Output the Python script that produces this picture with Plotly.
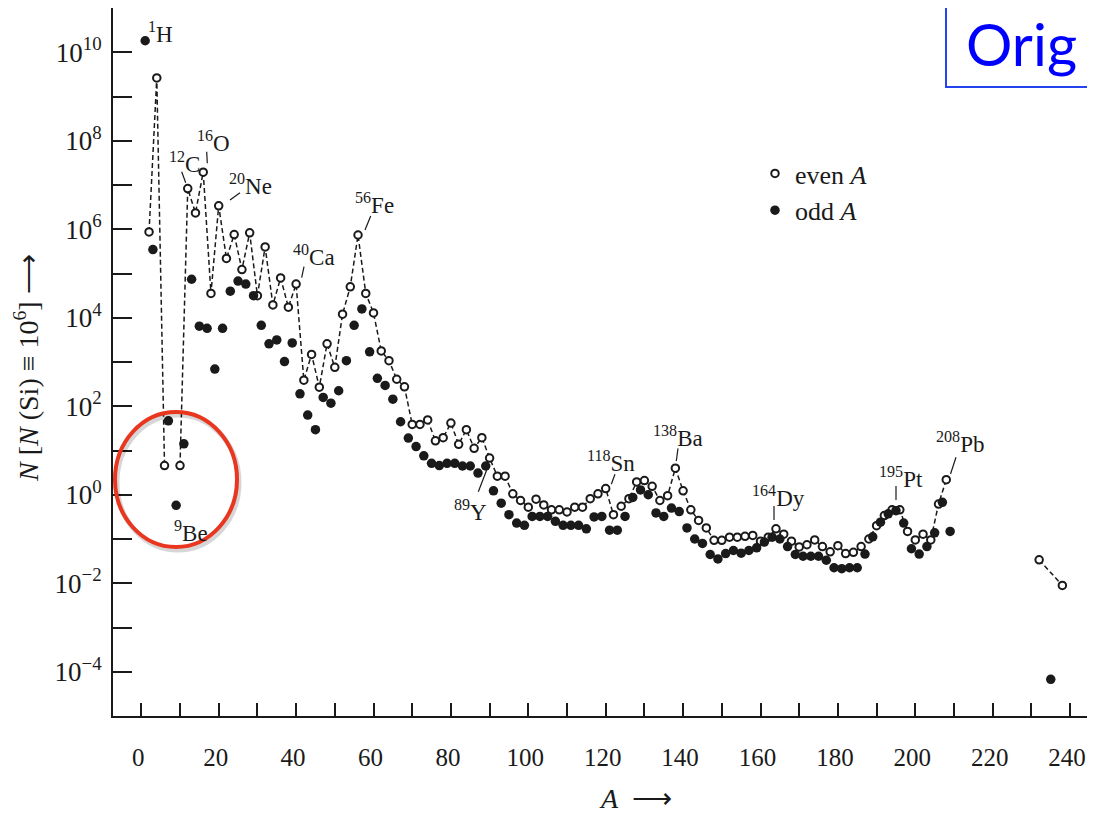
import plotly.graph_objects as go

# ---------------- data ----------------
even_A = [2, 4, 6, 8, 10, 12, 14, 16, 18, 20, 22, 24, 26, 28, 30, 32, 34, 36, 38, 40,
          42, 44, 46, 48, 50, 52, 54, 56, 58, 60, 62, 64, 66, 68, 70, 72, 74, 76, 78, 80,
          82, 84, 86, 88, 90, 92, 94, 96, 98, 100, 102, 104, 106, 108, 110, 112, 114, 116, 118, 120,
          122, 124, 126, 128, 130, 132, 134, 136, 138, 140, 142, 144, 146, 148, 150, 152, 154, 156, 158, 160,
          162, 164, 166, 168, 170, 172, 174, 176, 178, 180, 182, 184, 186, 188, 190, 192, 194, 196, 198, 200,
          202, 204, 206, 208]
even_log10N = [5.94, 9.42, 0.66, None, 0.66, 6.92, 6.37, 7.29, 4.55, 6.53, 5.34, 5.88, 5.09, 5.92, 4.50, 5.60, 4.29, 4.90, 4.24, 4.76,
               2.59, 3.17, 2.43, 3.41, 2.88, 4.08, 4.70, 5.87, 4.55, 4.11, 3.25, 3.03, 2.61, 2.44, 1.59, 1.59, 1.69, 1.22, 1.29, 1.62,
               1.14, 1.47, 1.05, 1.29, 0.83, 0.42, 0.42, 0.02, -0.13, -0.28, -0.10, -0.23, -0.34, -0.34, -0.39, -0.28, -0.28, -0.09, 0.02, 0.14,
               -0.45, -0.26, -0.09, 0.29, 0.32, 0.19, -0.13, -0.02, 0.60, 0.09, -0.34, -0.58, -0.75, -1.03, -1.03, -0.96, -0.96, -0.94, -0.92, -1.05,
               -0.96, -0.77, -0.89, -1.05, -1.18, -1.13, -1.02, -1.17, -1.29, -1.15, -1.33, -1.30, -1.17, -1.00, -0.70, -0.47, -0.34, -0.34, -0.83, -1.02,
               -0.89, -1.02, -0.21, 0.34]

odd_A = [1, 3, 5, 7, 9, 11, 13, 15, 17, 19, 21, 23, 25, 27, 29, 31, 33, 35, 37, 39,
         41, 43, 45, 47, 49, 51, 53, 55, 57, 59, 61, 63, 65, 67, 69, 71, 73, 75, 77, 79,
         81, 83, 85, 87, 89, 91, 93, 95, 97, 99, 101, 103, 105, 107, 109, 111, 113, 115, 117, 119,
         121, 123, 125, 127, 129, 131, 133, 135, 137, 139, 141, 143, 145, 147, 149, 151, 153, 155, 157, 159,
         161, 163, 165, 167, 169, 171, 173, 175, 177, 179, 181, 183, 185, 187, 189, 191, 193, 195, 197, 199,
         201, 203, 205, 207, 209]
odd_log10N = [10.26, 5.54, None, 1.67, -0.24, 1.15, 4.87, 3.81, 3.76, 2.84, 3.76, 4.60, 4.83, 4.76, 4.50, 3.83, 3.41, 3.50, 3.01, 3.43,
              2.28, 1.80, 1.47, 2.20, 2.07, 2.35, 3.03, 3.83, 4.20, 3.23, 2.63, 2.47, 2.16, 1.65, 1.28, 1.09, 0.88, 0.71, 0.66, 0.71,
              0.71, 0.65, 0.65, 0.49, 0.65, 0.09, -0.19, -0.45, -0.64, -0.69, -0.49, -0.49, -0.49, -0.60, -0.69, -0.69, -0.69, -0.77, -0.50, -0.49,
              -0.80, -0.80, -0.49, -0.06, 0.11, 0.00, -0.41, -0.49, -0.30, -0.38, -0.75, -1.00, -1.10, -1.35, -1.45, -1.33, -1.26, -1.32, -1.26, -1.20,
              -1.07, -0.96, -1.00, -1.17, -1.35, -1.39, -1.39, -1.39, -1.48, -1.65, -1.67, -1.65, -1.65, -1.34, -0.95, -0.62, -0.43, -0.36, -0.64, -1.22,
              -1.34, -1.17, -0.86, -0.17, -0.83]

actinide_even_A = [232, 238]
actinide_even_log10N = [-1.47, -2.05]
actinide_odd_A = [235]
actinide_odd_log10N = [-4.17]

x_tick_vals = [0, 20, 40, 60, 80, 100, 120, 140, 160, 180, 200, 220, 240]
x_tick_text = ["0", "20", "40", "60", "80", "100", "120", "140", "160", "180", "200", "220", "240"]
x_minor_vals = [0, 10, 20, 30, 40, 50, 60, 70, 80, 90, 100, 110, 120, 130, 140, 150, 160, 170, 180, 190,
                200, 210, 220, 230, 240]
y_tick_exp = [-4, -2, 0, 2, 4, 6, 8, 10]
y_minor_exp = [-4, -3, -2, -1, 0, 1, 2, 3, 4, 5, 6, 7, 8, 9, 10, 11]

# element labels
labels = ["<sup>1</sup>H", "<sup>12</sup>C", "<sup>16</sup>O", "<sup>20</sup>Ne", "<sup>40</sup>Ca",
          "<sup>56</sup>Fe", "<sup>89</sup>Y", "<sup>118</sup>Sn", "<sup>138</sup>Ba", "<sup>164</sup>Dy",
          "<sup>195</sup>Pt", "<sup>208</sup>Pb", "<sup>9</sup>Be"]

# ---------------- layout geometry ----------------
# the page body has an 8px margin, so the figure starts at page (8, 8);
# the visible page area ends at x = 1087
OFF = 8
VIS_R = 1087
W, H = VIS_R - OFF, 814 - OFF
PX0, PX1 = 113, VIS_R          # plot area, page pixels
PY0, PY1 = 8, 716
L, R, T, B = PX0 - OFF, 0, PY0 - OFF, H - (PY1 - OFF)
PW, PH = PX1 - PX0, PY1 - PY0
X_ZERO, X_SCALE = 141.3, 3.87  # page px of A = 0, px per unit of A


def px(x):
    return (x - PX0) / PW


def py(y):
    return (PY1 - y) / PH


SERIF = "Liberation Serif, Times New Roman, serif"
INK = "#1a1a1a"


def to_N(vals):
    return [None if v is None else 10 ** v for v in vals]


fig = go.Figure()

# dashed line joining the even-A points
fig.add_trace(go.Scatter(
    x=even_A + [None] + actinide_even_A,
    y=to_N(even_log10N) + [None] + to_N(actinide_even_log10N),
    mode="lines", line=dict(color=INK, width=1.5, dash="5px,3px"),
    showlegend=False, hoverinfo="skip", connectgaps=False))

fig.add_trace(go.Scatter(
    x=even_A + actinide_even_A,
    y=to_N(even_log10N) + to_N(actinide_even_log10N),
    mode="markers", name="even <i>A</i>",
    marker=dict(symbol="circle", size=7.5, color="white", line=dict(color=INK, width=2))))

fig.add_trace(go.Scatter(
    x=odd_A + actinide_odd_A,
    y=to_N(odd_log10N) + to_N(actinide_odd_log10N),
    mode="markers", name="odd <i>A</i>",
    marker=dict(symbol="circle", size=9.5, color=INK, line=dict(width=0))))

annotations = []
label_pos = [(146, 33), (167, 162), (195, 142), (227, 184), (291, 255), (353, 203), (452, 510),
             (585, 462), (651, 437), (750, 497), (877, 477), (934, 443), (172, 531)]
for txt, (lx, ly) in zip(labels, label_pos):
    annotations.append(dict(text=txt, x=px(lx), y=py(ly), xref="paper", yref="paper",
                            xanchor="left", yanchor="middle", showarrow=False,
                            font=dict(family=SERIF, size=23, color=INK)))

annotations.append(dict(text="<i>N</i> [<i>N</i> (Si) ≡ 10<sup>6</sup>] ⟶", textangle=-90,
                        x=px(26), y=py(368), xref="paper", yref="paper",
                        xanchor="center", yanchor="middle", showarrow=False,
                        font=dict(family=SERIF, size=28, color=INK)))
annotations.append(dict(text="<i>A</i>  ⟶", x=px(635), y=py(798), xref="paper", yref="paper",
                        xanchor="center", yanchor="middle", showarrow=False,
                        font=dict(family=SERIF, size=28, color=INK)))
annotations.append(dict(text="Orig", x=px(965), y=py(PY0), xref="paper", yref="paper",
                        xanchor="left", yanchor="top", showarrow=False, borderpad=0,
                        font=dict(family="Lato, Open Sans, sans-serif", size=58, color="#0000ff")))

shapes = []
leaders = [(181.7, 171.7, 185.7, 182.7), (206.7, 151.7, 207.3, 163.3), (240, 192.7, 230, 200),
           (304, 266.7, 301.7, 277.7), (370.7, 216, 365, 230), (478.3, 491.7, 486.7, 470),
           (615, 474.3, 611.3, 484.3), (678, 448.3, 676.3, 461), (774, 506, 774, 520),
           (896, 486, 896, 500), (956, 457.3, 950.5, 474)]
for x0, y0, x1, y1 in leaders:
    shapes.append(dict(type="line", xref="paper", yref="paper", x0=px(x0), y0=py(y0),
                       x1=px(x1), y1=py(y1), line=dict(color=INK, width=1.2)))

# red ellipse (with soft shadow)
shapes.append(dict(type="circle", xref="paper", yref="paper", x0=px(117), x1=px(239),
                   y0=py(415), y1=py(550), line=dict(color="rgba(0,0,0,0.16)", width=5)))
shapes.append(dict(type="circle", xref="paper", yref="paper", x0=px(115), x1=px(237),
                   y0=py(412), y1=py(547), line=dict(color="#e8361f", width=4)))
# blue box top right
shapes.append(dict(type="rect", xref="paper", yref="paper", x0=px(946), x1=px(1110),
                   y0=py(87), y1=py(-10), line=dict(color="#2444f0", width=2)))

fig.update_layout(
    width=W, height=H, margin=dict(l=L, r=R, t=T, b=B),
    paper_bgcolor="white", plot_bgcolor="white",
    showlegend=True,
    legend=dict(x=px(755), y=py(150), xanchor="left", yanchor="top",
                font=dict(family=SERIF, size=26, color=INK), bgcolor="rgba(0,0,0,0)",
                itemwidth=30, tracegroupgap=0),
    annotations=annotations, shapes=shapes,
)

fig.update_xaxes(range=[(PX0 - X_ZERO) / X_SCALE, (PX1 - X_ZERO) / X_SCALE],
                 showgrid=False, zeroline=False,
                 showline=True, linecolor=INK, linewidth=2,
                 ticks="inside", ticklen=13, tickwidth=1.5, tickcolor=INK,
                 tickmode="array", tickvals=x_tick_vals, ticktext=x_tick_text,
                 ticklabelstandoff=18, ticklabelshift=-3,
                 minor=dict(tickmode="array", tickvals=x_minor_vals, ticks="inside",
                            ticklen=13, tickwidth=1.5, tickcolor=INK, showgrid=False),
                 tickfont=dict(family=SERIF, size=25, color=INK))

fig.update_yaxes(type="log", range=[-5, 11], showgrid=False, zeroline=False,
                 showline=True, linecolor=INK, linewidth=2,
                 ticks="inside", ticklen=19, tickwidth=2, tickcolor=INK,
                 tickmode="array",
                 tickvals=[10 ** k for k in y_tick_exp],
                 ticktext=["10<sup>%s</sup>" % str(k).replace("-", "−") for k in y_tick_exp],
                 minor=dict(tickmode="array", tickvals=[10 ** k for k in y_minor_exp], ticks="inside",
                            ticklen=19, tickwidth=2, tickcolor=INK, showgrid=False),
                 ticklabelstandoff=4,
                 tickfont=dict(family=SERIF, size=27, color=INK))

fig.write_html("out.html")
